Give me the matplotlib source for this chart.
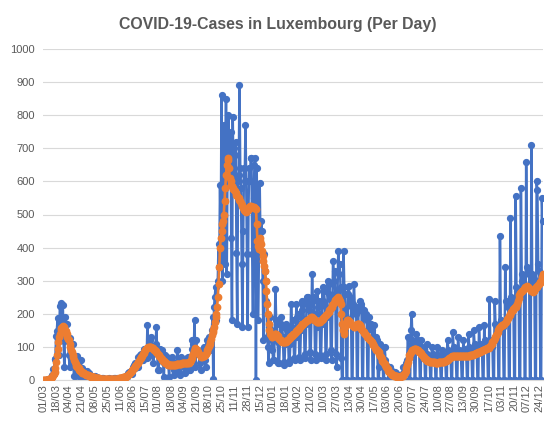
import matplotlib
matplotlib.use('Agg')
import matplotlib.pyplot as plt
import numpy as np
import pandas as pd

start_date = '2020-03-01'
title = 'COVID-19-Cases in Luxembourg (Per Day)'

tick_labels = ['01/03', '18/03', '04/04', '21/04', '08/05', '25/05', '11/06', '28/06',
               '15/07', '01/08', '18/08', '04/09', '21/09', '08/10', '25/10', '11/11',
               '28/11', '15/12', '01/01', '18/01', '04/02', '21/02', '10/03', '27/03',
               '13/04', '30/04', '17/05', '03/06', '20/06', '07/07', '24/07', '10/08',
               '27/08', '13/09', '30/09', '17/10', '03/11', '20/11', '07/12', '24/12']

# daily new cases (blue), weeks Sun..Sat
cases_a = [0, 0, 0, 1, 0, 1, 2,
           2, 3, 2, 7, 12, 15, 33,
           18, 63, 63, 132, 149, 186, 128,
           77, 224, 234, 120, 152, 226, 119,
           38, 190, 141, 168, 125, 117, 75,
           39, 127, 64, 81, 108, 47, 11,
           11, 15, 66, 71, 36, 57, 13,
           8, 60, 36, 11, 30, 16, 12,
           6, 12, 28, 15, 18, 22, 12,
           5, 4, 10, 8, 7, 10, 12,
           3, 5, 8, 2, 6, 4, 3,
           2, 5, 4, 6, 3, 2, 1,
           1, 2, 4, 3, 5, 2, 1,
           2, 3, 4, 1, 6, 5, 3,
           2, 5, 3, 4, 6, 3, 5,
           4, 6, 9, 10, 8, 12, 7,
           10, 20, 18, 25, 22, 28, 17,
           25, 40, 45, 35, 50, 45, 40,
           40, 70, 60, 75, 80, 70, 60,
           60, 90, 95, 85, 80, 65, 165,
           70, 90, 110, 120, 130, 100, 80,
           50, 95, 100, 110, 160, 85, 30]
cases_b = [30, 90, 95, 80, 85, 90, 55,
           10, 75, 65, 60, 70, 60, 45,
           10, 55, 60, 50, 70, 40, 30,
           15, 45, 50, 55, 90, 35, 25,
           15, 60, 70, 55, 60, 50, 40,
           20, 55, 60, 65, 70, 50, 30,
           30, 70, 95, 120, 110, 100, 180,
           40, 120, 90, 80, 90, 80, 50,
           30, 60, 75, 85, 100, 90, 60,
           40, 90, 120, 110, 130, 120, 90,
           100, 150, 190, 3, 220, 250, 280,
           180, 250, 300, 410, 340, 590, 420,
           860, 300, 600, 770, 350, 580, 850,
           320, 650, 800, 700, 680, 750, 430,
           180, 795, 600, 700, 680, 720, 385,
           170, 600, 620, 890, 640, 580, 350,
           160, 450, 640, 600, 770, 600, 380,
           160, 520, 640, 600, 670, 670, 380,
           200, 550, 650, 670, 0, 640, 400,
           180, 400, 595, 420, 480, 450, 300,
           120, 380, 330, 300, 240, 130, 100,
           50, 160, 190, 150, 120, 90, 60]
cases_c = [60, 130, 275, 180, 170, 115, 50,
           50, 120, 190, 170, 160, 130, 55,
           45, 110, 170, 160, 150, 120, 50,
           60, 110, 230, 160, 180, 140, 65,
           60, 130, 230, 190, 200, 170, 70,
           60, 150, 240, 210, 230, 185, 80,
           65, 170, 250, 230, 250, 210, 85,
           60, 180, 320, 240, 250, 200, 80,
           60, 160, 270, 220, 240, 200, 75,
           65, 170, 280, 240, 270, 225, 80,
           60, 190, 300, 260, 290, 245, 90,
           60, 220, 360, 300, 330, 260, 80,
           40, 270, 390, 320, 350, 280, 65,
           0, 0, 390, 280, 260, 190, 0,
           0, 260, 285, 250, 240, 225, 0,
           0, 230, 290, 220, 215, 200, 0,
           0, 220, 210, 240, 230, 220, 0,
           0, 200, 210, 190, 200, 180, 0,
           0, 190, 170, 160, 170, 150, 0,
           0, 165, 130, 120, 130, 120, 0,
           0, 40, 110, 100, 90, 80, 0,
           0, 100, 60, 45, 40, 35, 0,
           0, 40, 30, 25, 25, 20, 0,
           0, 25, 20, 15, 12, 12, 0,
           0, 10, 10, 15, 20, 40, 0,
           0, 40, 50, 60, 130, 80, 0]
cases_d = [0, 150, 200, 120, 110, 100, 0,
           0, 140, 110, 120, 110, 100, 0,
           0, 120, 100, 90, 85, 75, 0,
           0, 110, 80, 70, 65, 60, 0,
           0, 100, 80, 70, 65, 60, 0,
           0, 100, 75, 70, 60, 55, 0,
           0, 90, 70, 75, 60, 55, 0,
           0, 120, 90, 80, 75, 70, 0,
           0, 145, 100, 90, 80, 75, 0,
           0, 130, 90, 85, 80, 70, 0,
           0, 120, 95, 85, 80, 75, 0,
           0, 140, 100, 90, 85, 80, 0,
           0, 150, 110, 100, 95, 90, 0,
           0, 160, 110, 105, 100, 95, 0,
           0, 165, 120, 115, 110, 100, 0,
           0, 245, 120, 110, 105, 100, 0,
           0, 240, 170, 165, 160, 150, 0,
           0, 435, 180, 170, 175, 160, 0,
           0, 340, 240, 230, 235, 220, 0,
           0, 490, 250, 240, 245, 230, 0,
           0, 555, 280, 270, 275, 260, 0,
           0, 580, 320, 300, 310, 290, 0,
           0, 660, 340, 330, 335, 320, 0,
           0, 710, 320, 300, 305, 290, 0,
           0, 600, 575, 350, 330, 300, 0,
           0, 550, 480]

# smoothed average (orange)
avg_a = [0, 0, 0, 0, 0, 1, 1,
         2, 3, 4, 5, 8, 10, 14,
         18, 25, 35, 55, 75, 95, 115,
         130, 140, 150, 158, 160, 162, 160,
         155, 150, 148, 140, 130, 125, 120,
         110, 100, 90, 85, 75, 70, 60,
         55, 48, 42, 40, 38, 35, 30,
         28, 26, 25, 22, 20, 20, 18,
         17, 16, 15, 15, 14, 13, 12,
         11, 10, 10, 9, 8, 8, 7,
         6, 6, 5, 5, 5, 4, 4,
         4, 4, 3, 3, 3, 3, 3,
         3, 3, 3, 3, 3, 3, 3,
         3, 3, 3, 4, 4, 4, 4,
         4, 4, 4, 5, 5, 5, 6,
         6, 7, 8, 8, 9, 10, 11,
         13, 15, 17, 19, 21, 23, 26,
         29, 32, 35, 38, 41, 44, 47,
         50, 54, 58, 62, 66, 70, 74,
         78, 82, 86, 90, 93, 96, 98,
         100, 101, 101, 100, 99, 98, 96,
         94, 92, 90, 88, 86, 83, 80]
avg_b = [77, 73, 70, 67, 64, 61, 58,
         56, 54, 52, 50, 48, 47, 46,
         45, 45, 44, 44, 44, 45, 45,
         45, 46, 46, 47, 47, 48, 48,
         48, 49, 49, 50, 50, 50, 50,
         50, 50, 51, 51, 52, 52, 53,
         55, 60, 66, 72, 80, 88, 95,
         96, 95, 90, 86, 82, 78, 76,
         72, 70, 70, 71, 72, 74, 77,
         80, 85, 90, 96, 102, 108, 115,
         125, 135, 145, 150, 160, 175, 190,
         200, 220, 250, 290, 340, 400, 430,
         450, 470, 480, 500, 540, 580, 620,
         650, 670, 665, 640, 610, 600, 590,
         585, 580, 578, 575, 570, 565, 560,
         555, 552, 550, 545, 540, 535, 530,
         525, 520, 515, 512, 510, 508, 510,
         515, 520, 522, 525, 525, 523, 522,
         522, 522, 520, 520, 518, 470, 420,
         405, 395, 420, 430, 410, 390, 375,
         360, 345, 330, 300, 270, 230, 200,
         170, 150, 140, 135, 130, 130, 132]
avg_c = [135, 138, 140, 138, 135, 132, 128,
         125, 122, 120, 118, 116, 115, 115,
         115, 114, 115, 118, 120, 122, 125,
         128, 130, 132, 134, 136, 138, 140,
         142, 145, 148, 150, 152, 155, 158,
         160, 162, 165, 168, 170, 172, 175,
         176, 178, 180, 180, 182, 184, 186,
         188, 190, 190, 188, 185, 182, 180,
         178, 176, 175, 174, 175, 176, 178,
         180, 182, 185, 188, 190, 192, 195,
         197, 200, 203, 206, 210, 214, 218,
         222, 226, 230, 234, 238, 242, 246,
         248, 250, 248, 244, 238, 230, 200,
         170, 150, 140, 145, 160, 170, 178,
         180, 180, 178, 176, 172, 168, 165,
         163, 162, 160, 160, 162, 165, 168,
         170, 170, 168, 165, 160, 155, 150,
         148, 145, 142, 140, 137, 134, 131,
         128, 125, 122, 120, 117, 114, 110,
         106, 102, 98, 95, 92, 90, 88,
         85, 80, 74, 68, 62, 58, 55,
         52, 48, 44, 40, 36, 32, 28,
         25, 22, 20, 18, 16, 15, 14,
         13, 12, 12, 11, 10, 10, 10,
         10, 10, 11, 12, 13, 15, 18,
         22, 28, 35, 45, 55, 65, 75]
avg_d = [80, 85, 88, 90, 92, 93, 94,
         94, 93, 92, 90, 88, 86, 84,
         82, 79, 76, 73, 70, 67, 64,
         62, 60, 58, 57, 56, 55, 55,
         54, 54, 54, 53, 53, 53, 52,
         52, 52, 52, 53, 53, 53, 54,
         54, 54, 55, 55, 56, 57, 58,
         59, 61, 63, 65, 66, 68, 70,
         71, 72, 73, 73, 74, 74, 74,
         74, 74, 74, 74, 73, 73, 73,
         73, 73, 72, 72, 72, 72, 73,
         73, 74, 74, 75, 75, 76, 76,
         77, 78, 79, 80, 81, 82, 83,
         84, 85, 86, 87, 88, 89, 90,
         91, 92, 93, 94, 95, 96, 97,
         98, 100, 103, 106, 110, 114, 118,
         122, 126, 130, 135, 140, 146, 152,
         156, 160, 162, 164, 165, 166, 168,
         170, 173, 176, 180, 184, 188, 192,
         196, 200, 204, 208, 212, 215, 218,
         220, 222, 225, 230, 238, 248, 258,
         262, 265, 268, 270, 272, 275, 278,
         280, 282, 283, 282, 280, 278, 275,
         272, 270, 268, 266, 268, 272, 276,
         280, 282, 285, 288, 290, 292, 295,
         300, 310, 320]

daily_cases = cases_a + cases_b + cases_c + cases_d
avg_cases = avg_a + avg_b + avg_c + avg_d
n = min(len(daily_cases), len(avg_cases))
daily_cases = daily_cases[:n]
avg_cases = avg_cases[:n]

dates = pd.date_range(start_date, periods=n)
date_labels = list(dates.strftime('%d/%m'))
x = np.arange(n)

tick_pos, tick_txt = [], []
i = 0
for lab in tick_labels:
    while i < n and date_labels[i] != lab:
        i += 1
    if i < n:
        tick_pos.append(i)
        tick_txt.append(lab)
        i += 1

plt.rcParams['font.family'] = ['Liberation Sans', 'DejaVu Sans']
W, H = 556, 426
fig = plt.figure(figsize=(W / 100, H / 100), dpi=100)
ax = fig.add_axes([43 / W, 1 - 380 / H, (543 - 43) / W, (380 - 49) / H])

ax.plot(x, daily_cases, color='#4472C4', lw=1.8, marker='o', ms=4.2, zorder=2)
ax.plot(x, avg_cases, color='#ED7D31', lw=1.9, marker='o', ms=4.6, zorder=3)

ax.set_ylim(0, 1000)
ax.set_yticks(range(0, 1001, 100))
ax.set_xlim(-0.5, n - 0.5)
ax.set_xticks(tick_pos)
ax.set_xticklabels(tick_txt, rotation=90)
ax.yaxis.grid(True, color='#D9D9D9', lw=0.8)
ax.set_axisbelow(True)
for s in ['top', 'right', 'left']:
    ax.spines[s].set_visible(False)
ax.spines['bottom'].set_color('#D9D9D9')
ax.tick_params(axis='both', length=0, labelsize=8, colors='#595959')
ax.tick_params(axis='x', pad=3)
ax.tick_params(axis='y', pad=6)

fig.text(278 / W, 1 - 24 / H, title, ha='center', va='center',
         fontsize=11.4, fontweight='bold', color='#595959')

fig.savefig('out.png', dpi=100)
